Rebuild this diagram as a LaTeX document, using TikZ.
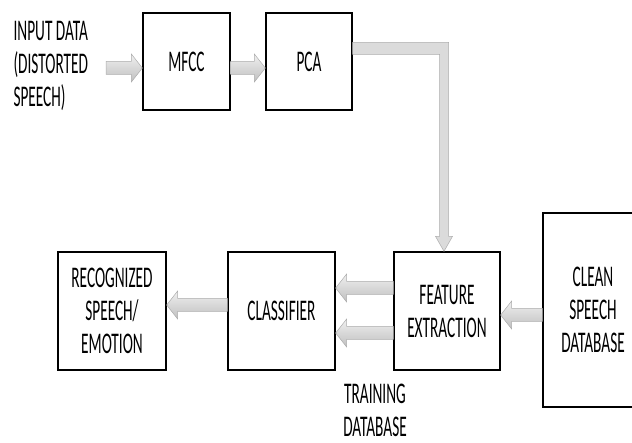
\documentclass[tikz,border=0pt]{standalone}
\usepackage{fontspec}
\setmainfont{Carlito}[FakeStretch=0.51]
\usepackage{tikz}
\usetikzlibrary{calc}

% horizontal block arrow from #1 to #2
\newcommand{\flow}[2]{%
  \path[flowarrow] let \p1=(#1), \p2=(#2), \n1={sign(\x2-\x1)*11} in
    (\x1,\y1+6.5pt) -- (\x2-\n1,\y1+6.5pt) -- (\x2-\n1,\y1+14pt) -- (\x2,\y1)
    -- (\x2-\n1,\y1-14pt) -- (\x2-\n1,\y1-6.5pt) -- (\x1,\y1-6.5pt) -- cycle;}

\begin{document}
\begin{tikzpicture}[x=1pt, y=-1pt,
    block/.style={draw, line width=1.3pt, fill=white, align=center,
      font=\fontsize{30}{33}\selectfont},
    label/.style={align=left, font=\fontsize{30}{33}\selectfont},
    flowarrow/.style={draw=gray!65, line width=0.5pt, top color=gray!12,
      bottom color=gray!50}]
    \useasboundingbox (0,0) rectangle (632,443);

    % Top row
    \node[label, anchor=west] (input) at (10,66)
      {INPUT DATA\\(DISTORTED\\SPEECH)};
    \node[block, minimum width=87, minimum height=97] (mfcc) at (186.5,61.5) {MFCC};
    \node[block, minimum width=86, minimum height=97] (pca) at (309,61.5) {PCA};
    \coordinate (in) at (106,68);

    % Bottom row
    \node[block, minimum width=108, minimum height=118] (recog) at (112,311)
      {RECOGNIZED\\SPEECH/\\EMOTION};
    \node[block, minimum width=107, minimum height=118] (classifier) at (281.5,311)
      {CLASSIFIER};
    \node[block, minimum width=106, minimum height=118] (fe) at (447,311)
      {FEATURE\\EXTRACTION};
    \node[block, minimum width=100, minimum height=194] (clean) at (593,310)
      {CLEAN\\SPEECH\\DATABASE};
    \node[label, align=center] (train) at (375,410) {TRAINING\\DATABASE};

    % Arrows
    \flow{in}{mfcc.west |- in}
    \flow{mfcc.east |- in}{pca.west |- in}
    \flow{$(fe.west)+(0,-23)$}{$(classifier.east)+(0,-23)$}
    \flow{$(fe.west)+(0,22)$}{$(classifier.east)+(0,22)$}
    \flow{$(classifier.west)+(0,-6)$}{$(recog.east)+(0,-6)$}
    \flow{$(clean.west)+(0,5)$}{$(fe.east)+(0,4)$}

    % PCA output bent down into feature extraction
    \path[draw=gray!65, line width=0.5pt, fill=gray!28]
      let \p1=(pca.north east), \p2=($(fe.north)+(-3,0)$) in
      (\x1,\y1-30pt) -- (\x2+4.5pt,\y1-30pt) -- (\x2+4.5pt,\y2+15pt)
      -- (\x2+8.5pt,\y2+15pt) -- (\x2,\y2) -- (\x2-8.5pt,\y2+15pt)
      -- (\x2-4.5pt,\y2+15pt) -- (\x2-4.5pt,\y1-42pt) -- (\x1,\y1-42pt) -- cycle;
  \end{tikzpicture}
\end{document}
